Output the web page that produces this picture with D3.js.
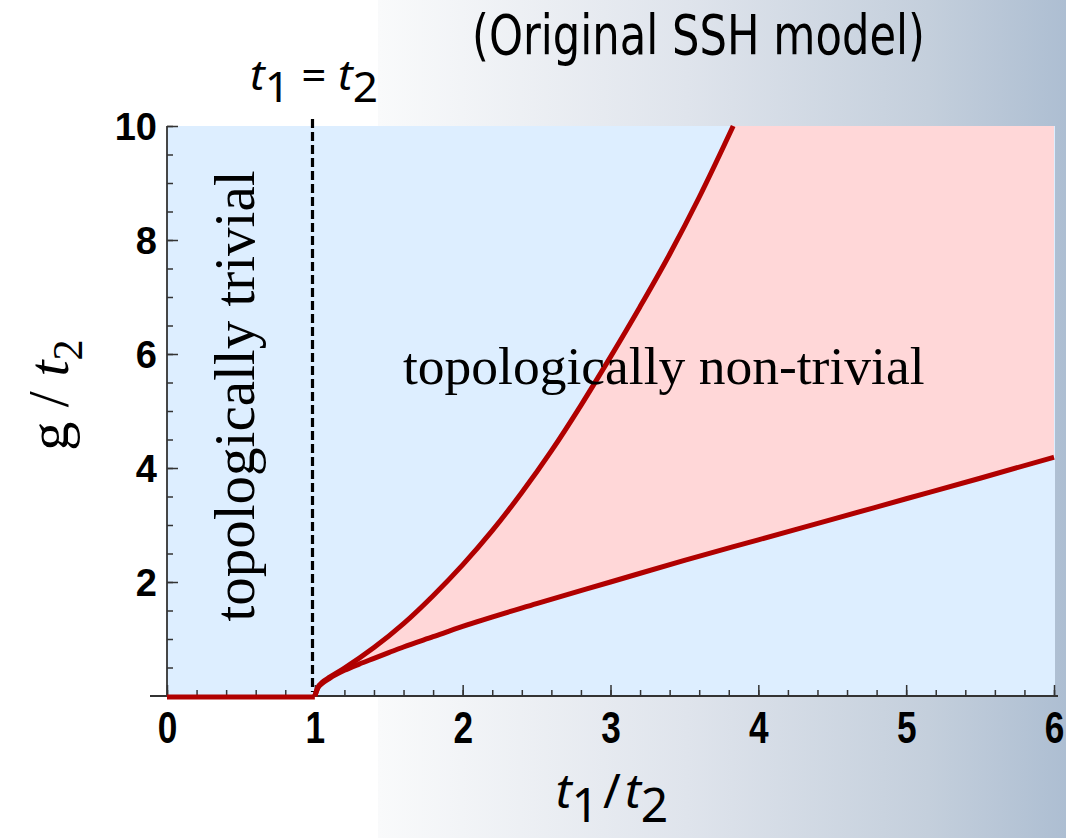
<!DOCTYPE html>
<html>
<head>
<meta charset="utf-8">
<script src="https://cdn.jsdelivr.net/npm/d3@7"></script>
<style>
  body { margin: 0; background: #fff; }
  svg { display: block; }
</style>
</head>
<body>
<div id="app"></div>
<script>
// values
const upperT = [1, 1.02, 1.05, 1.1, 1.2, 1.4, 1.6, 1.8, 2.0, 2.2, 2.4, 2.6, 2.8, 3.0, 3.2, 3.4, 3.6, 3.83];
const upperG = [0, 0.15, 0.24, 0.33, 0.49, 0.85, 1.27, 1.76, 2.3, 2.9, 3.57, 4.3, 5.1, 5.95, 6.83, 7.75, 8.75, 10.0];
const lowerT = [1, 1.02, 1.05, 1.1, 1.2, 1.3, 1.4, 1.5, 1.6, 1.8, 2.0, 2.5, 3.0, 3.5, 4.0, 4.5, 5.0, 5.5, 6.0];
const lowerG = [0, 0.14, 0.22, 0.31, 0.45, 0.56, 0.66, 0.76, 0.86, 1.04, 1.22, 1.62, 2.0, 2.38, 2.74, 3.1, 3.46, 3.82, 4.19];
const zeroT = [0, 1];
const zeroG = [0, 0];
const dashT = 0.98;
const xTicks = [0, 1, 2, 3, 4, 5, 6];
const xMinor = d3.range(0, 6.01, 0.2);
const yTicks = [2, 4, 6, 8, 10];
const yMinor = d3.range(0, 10.01, 0.5);

const width = 1066, height = 838;

const svg = d3.select('#app')
  .append('svg')
  .attr('width', width)
  .attr('height', height);

const x = d3.scaleLinear().domain([0, 6]).range([167, 1054]);
const y = d3.scaleLinear().domain([0, 10]).range([696, 126]);

// backdrop gradient
const defs = svg.append('defs');
const grad = defs.append('linearGradient')
  .attr('id', 'bg')
  .attr('gradientUnits', 'userSpaceOnUse')
  .attr('x1', 378).attr('y1', 0)
  .attr('x2', 1066).attr('y2', 0);
grad.append('stop').attr('offset', 0).attr('stop-color', '#f9fafb');
grad.append('stop').attr('offset', 0.45).attr('stop-color', '#dfe4ec');
grad.append('stop').attr('offset', 0.8).attr('stop-color', '#c4cfdc');
grad.append('stop').attr('offset', 1).attr('stop-color', '#adbed2');

svg.append('rect')
  .attr('x', 378).attr('y', 0)
  .attr('width', width - 378).attr('height', height)
  .attr('fill', 'url(#bg)');

// plot area
svg.append('rect')
  .attr('x', x(0)).attr('y', y(10))
  .attr('width', x(6) - x(0) + 1).attr('height', y(0) - y(10))
  .attr('fill', '#ddeeff');

const pairs = (ts, gs) => ts.map((t, i) => [t, gs[i]]);
const upper = pairs(upperT, upperG);
const lower = pairs(lowerT, lowerG);

const line = d3.line()
  .x(d => x(d[0]))
  .y(d => y(d[1]))
  .curve(d3.curveMonotoneX);

// non-trivial region: between the two curves, capped at the top
svg.append('path')
  .attr('d', line(upper) + 'L' + x(6) + ',' + y(10) + 'L' + line(lower.slice().reverse()).slice(1) + 'Z')
  .attr('fill', '#ffd7d8');

// axes
const minorX = svg.append('g')
  .attr('transform', `translate(0,${y(0)})`)
  .call(d3.axisBottom(x).tickValues(xMinor).tickSize(-6).tickFormat(''));
const minorY = svg.append('g')
  .attr('transform', `translate(${x(0)},0)`)
  .call(d3.axisLeft(y).tickValues(yMinor).tickSize(-6).tickFormat(''));

const xAxis = svg.append('g')
  .attr('transform', `translate(0,${y(0)})`)
  .call(d3.axisBottom(x).tickValues(xTicks).tickSize(-11).tickPadding(16).tickFormat(d3.format('d')));
const yAxis = svg.append('g')
  .attr('transform', `translate(${x(0)},0)`)
  .call(d3.axisLeft(y).tickValues(yTicks).tickSize(-11).tickPadding(10).tickFormat(d3.format('d')));

[minorX, minorY, xAxis, yAxis].forEach(g => {
  g.select('.domain').remove();
  g.selectAll('line').attr('stroke', '#333').attr('stroke-width', 1.5);
});

xAxis.selectAll('text')
  .attr('font-family', 'Liberation Sans, Arial, sans-serif')
  .attr('font-weight', 'bold')
  .attr('font-size', 44)
  .attr('fill', '#000')
  .attr('transform', 'scale(0.8,1)');

yAxis.selectAll('text')
  .attr('font-family', 'Liberation Sans, Arial, sans-serif')
  .attr('font-weight', 'bold')
  .attr('font-size', 38)
  .attr('fill', '#000')
  .attr('dy', '0.36em');

// axis lines
svg.append('line')
  .attr('x1', x(0) - 17).attr('x2', x(6) + 4)
  .attr('y1', y(0)).attr('y2', y(0))
  .attr('stroke', '#333').attr('stroke-width', 1.8);
svg.append('line')
  .attr('x1', x(0)).attr('x2', x(0))
  .attr('y1', y(10)).attr('y2', y(0))
  .attr('stroke', '#333').attr('stroke-width', 1.8);

// t1 = t2 dashed line
svg.append('line')
  .attr('x1', Math.round(x(dashT)) + 0.5).attr('x2', Math.round(x(dashT)) + 0.5)
  .attr('y1', y(10) - 7).attr('y2', y(0) - 4)
  .attr('stroke', '#000')
  .attr('stroke-width', 3.2)
  .attr('stroke-dasharray', '9,4');

// boundary curves
const red = '#b00000';
svg.append('path')
  .attr('d', d3.line().x(d => x(d[0])).y(d => y(d[1]))(pairs(zeroT, zeroG)))
  .attr('transform', 'translate(0,1)')
  .attr('stroke', red).attr('stroke-width', 5).attr('fill', 'none');
svg.append('path')
  .attr('d', line(upper))
  .attr('stroke', red).attr('stroke-width', 5).attr('fill', 'none');
svg.append('path')
  .attr('d', line(lower))
  .attr('stroke', red).attr('stroke-width', 5).attr('fill', 'none');

// labels inside the plot
svg.append('text')
  .attr('x', 403).attr('y', 384)
  .attr('font-family', 'Liberation Serif, Times New Roman, serif')
  .attr('font-size', 53.5)
  .text('topologically non-trivial');

svg.append('text')
  .attr('transform', 'translate(254,396) rotate(-90)')
  .attr('text-anchor', 'middle')
  .attr('font-family', 'Liberation Serif, Times New Roman, serif')
  .attr('font-size', 57)
  .text('topologically trivial');

// title
svg.append('text')
  .attr('transform', 'translate(472,54) scale(1,1.12)')
  .attr('font-family', 'DejaVu Sans Condensed, DejaVu Sans, sans-serif')
  .attr('font-stretch', 'condensed')
  .attr('font-size', 50)
  .attr('textLength', 453)
  .attr('lengthAdjust', 'spacingAndGlyphs')
  .text('(Original SSH model)');

// t1 = t2 label
const eq = svg.append('text')
  .attr('x', 250).attr('y', 90)
  .attr('font-family', 'Noto Sans, sans-serif')
  .attr('font-size', 42)
  .attr('textLength', 128)
  .attr('lengthAdjust', 'spacingAndGlyphs');
eq.append('tspan').attr('font-style', 'italic').text('t');
eq.append('tspan').attr('dy', 12).text('1');
eq.append('tspan').attr('dy', -12).text(' = ');
eq.append('tspan').attr('font-style', 'italic').text('t');
eq.append('tspan').attr('dy', 12).text('2');

// x label
const xl = svg.append('text')
  .attr('x', 612).attr('y', 808)
  .attr('text-anchor', 'middle')
  .attr('font-family', 'Noto Sans, sans-serif')
  .attr('font-size', 48);
xl.append('tspan').attr('font-style', 'italic').text('t');
xl.append('tspan').attr('dy', 14).text('1');
xl.append('tspan').attr('dy', -14).attr('dx', 4).text('/');
xl.append('tspan').attr('dx', 4).attr('font-style', 'italic').text('t');
xl.append('tspan').attr('dy', 14).text('2');

// y label
const yl = svg.append('text')
  .attr('transform', 'translate(68,395) rotate(-90)')
  .attr('text-anchor', 'middle')
  .attr('font-family', 'Liberation Serif, Times New Roman, serif')
  .attr('font-size', 58);
yl.append('tspan').text('g');
yl.append('tspan').text(' / ');
yl.append('tspan').attr('font-style', 'italic').text('t');
yl.append('tspan').attr('dy', 14).attr('font-size', 42).text('2');
</script>
</body>
</html>
